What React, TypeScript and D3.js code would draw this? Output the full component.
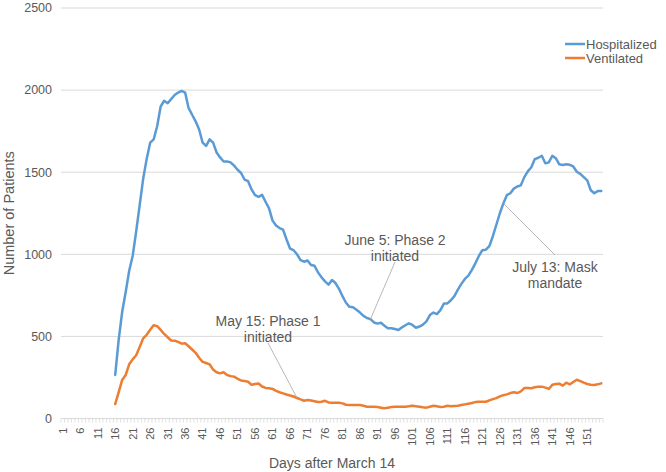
import * as d3 from 'd3';
import React from 'react';

// days after March 14 shown on the category axis
const days = d3.range(1, 156);
const firstDataDay = 16;

const hospitalized = [
  265, 480, 650, 770, 900, 990, 1140, 1300, 1460, 1580,
  1680, 1700, 1780, 1900, 1935, 1920, 1945, 1970, 1985, 1995,
  1985, 1890, 1850, 1810, 1760, 1680, 1660, 1700, 1680, 1620,
  1590, 1565, 1565, 1560, 1540, 1515, 1495, 1455, 1445, 1395,
  1360, 1350, 1362, 1320, 1280, 1205, 1175, 1160, 1150, 1090,
  1035, 1025, 1000, 965, 955, 962, 935, 930, 890, 860,
  835, 815, 843, 825, 790, 745, 705, 680, 677, 662,
  645, 625, 612, 605, 585, 578, 583, 565, 549, 550,
  545, 539, 555, 568, 580, 570, 553, 560, 572, 592,
  630, 645, 636, 660, 700, 701, 720, 745, 785, 820,
  850, 870, 905, 945, 990, 1025, 1028, 1050, 1110, 1180,
  1250, 1310, 1360, 1372, 1400, 1413, 1420, 1470, 1505, 1530,
  1580, 1588, 1600, 1554, 1560, 1600, 1585, 1548, 1544, 1548,
  1545, 1535, 1503, 1490, 1470, 1450, 1390, 1372, 1385, 1385,
];

const ventilated = [
  88, 160, 235, 265, 330, 360, 385, 435, 488, 510,
  540, 568, 562, 540, 515, 495, 475, 474, 466, 456,
  458, 440, 420, 400, 370, 345, 338, 330, 298, 282,
  275, 282, 265, 258, 255, 242, 232, 228, 224, 205,
  210, 213, 195, 186, 184, 180, 168, 160, 153, 146,
  140, 134, 125, 116, 108, 113, 110, 105, 100, 102,
  108, 98, 96, 96, 96, 92, 84, 82, 82, 82,
  82, 78, 72, 72, 72, 70, 66, 62, 66, 70,
  72, 72, 72, 72, 74, 78, 75, 72, 68, 66,
  72, 78, 74, 70, 72, 78, 74, 76, 78, 82,
  86, 90, 94, 100, 102, 102, 102, 110, 118, 124,
  135, 142, 147, 155, 160, 155, 165, 185, 186, 184,
  190, 194, 194, 188, 180, 205, 210, 212, 200, 218,
  208, 222, 236, 228, 218, 210, 205, 204, 208, 214,
];

const yTicks = [0, 500, 1000, 1500, 2000, 2500];
const xTickLabels = days.filter(d => (d - 1) % 5 === 0);

const annotations = [
  { lines: ['May 15: Phase 1', 'initiated'], day: 68, series: 'ventilated', tx: 268, ty: 321 },
  { lines: ['June 5: Phase 2', 'initiated'], day: 89, series: 'hospitalized', tx: 395, ty: 240 },
  { lines: ['July 13: Mask', 'mandate'], day: 127, series: 'hospitalized', tx: 555, ty: 267 },
];

const BLUE = '#5B9BD5';
const ORANGE = '#ED7D31';
const TEXT = '#595959';
const GRID = '#D9D9D9';
const FONT = '"Liberation Sans", Arial, sans-serif';

export default function App() {
  const left = 61, right = 603, top = 8, bottom = 418.5;

  const x = d3.scaleBand<number>().domain(days).range([left, right]).padding(0);
  const cx = (d: number) => (x(d) as number) + x.bandwidth() / 2;
  const y = d3.scaleLinear().domain([0, 2500]).range([bottom, top]);

  const toPoints = (vals: number[]) => vals.map((v, i) => ({ day: firstDataDay + i, v }));
  const hosp = toPoints(hospitalized);
  const vent = toPoints(ventilated);

  const line = d3.line<{ day: number; v: number }>()
    .x(d => cx(d.day))
    .y(d => y(d.v));

  const valueAt = (series: string, day: number) =>
    (series === 'hospitalized' ? hospitalized : ventilated)[day - firstDataDay];

  return (
    <div style={{ position: 'absolute', left: 0, top: 0 }}>
      <svg width={666} height={472} style={{ display: 'block', background: '#fff' }} fontFamily={FONT}>
        {/* gridlines */}
        {yTicks.map(t => (
          <line key={t} x1={left} x2={right} y1={y(t)} y2={y(t)} stroke={GRID} strokeWidth={1} />
        ))}
        {/* category tick marks */}
        {days.concat([156]).map(d => {
          const xx = d === 156 ? right : (x(d) as number);
          return <line key={'t' + d} x1={xx} x2={xx} y1={bottom} y2={bottom + 4} stroke={GRID} strokeWidth={0.8} />;
        })}
        {/* y labels */}
        {yTicks.map(t => (
          <text key={'y' + t} x={52} y={y(t)} dy="0.35em" textAnchor="end" fontSize={12.5} fill={TEXT}>{t}</text>
        ))}
        {/* x labels */}
        {xTickLabels.map(d => (
          <text key={'x' + d} transform={`translate(${cx(d)},${bottom + 9}) rotate(-90)`}
            textAnchor="end" dy="0.35em" fontSize={11} fill={TEXT}>{d}</text>
        ))}
        {/* axis titles */}
        <text x={(left + right) / 2} y={468} textAnchor="middle" fontSize={14} fill={TEXT}>Days after March 14</text>
        <text transform={`translate(14,${(top + bottom) / 2}) rotate(-90)`} textAnchor="middle" fontSize={14.5} fill={TEXT}>Number of Patients</text>

        {/* series */}
        <path d={line(hosp) ?? ''} fill="none" stroke={BLUE} strokeWidth={2.5} strokeLinejoin="round" strokeLinecap="round" />
        <path d={line(vent) ?? ''} fill="none" stroke={ORANGE} strokeWidth={2.5} strokeLinejoin="round" strokeLinecap="round" />

        {/* annotations */}
        {annotations.map(a => {
          const px = cx(a.day), py = y(valueAt(a.series, a.day));
          const below = a.ty > py;
          const ly = below ? a.ty - 12 : a.ty + 22;
          return (
            <g key={a.lines[0]}>
              <line x1={a.tx} y1={ly} x2={px} y2={py} stroke="#A6A6A6" strokeWidth={0.8} />
              {a.lines.map((l, i) => (
                <text key={l} x={a.tx} y={a.ty + i * 16.5} dy="0.35em" textAnchor="middle" fontSize={14} fill={TEXT}>{l}</text>
              ))}
            </g>
          );
        })}

        {/* legend */}
        <line x1={565} x2={585} y1={44} y2={44} stroke={BLUE} strokeWidth={2.5} />
        <text x={586} y={44} dy="0.35em" fontSize={13} fill={TEXT}>Hospitalized</text>
        <line x1={565} x2={585} y1={58} y2={58} stroke={ORANGE} strokeWidth={2.5} />
        <text x={586} y={58} dy="0.35em" fontSize={13} fill={TEXT}>Ventilated</text>
      </svg>
    </div>
  );
}
